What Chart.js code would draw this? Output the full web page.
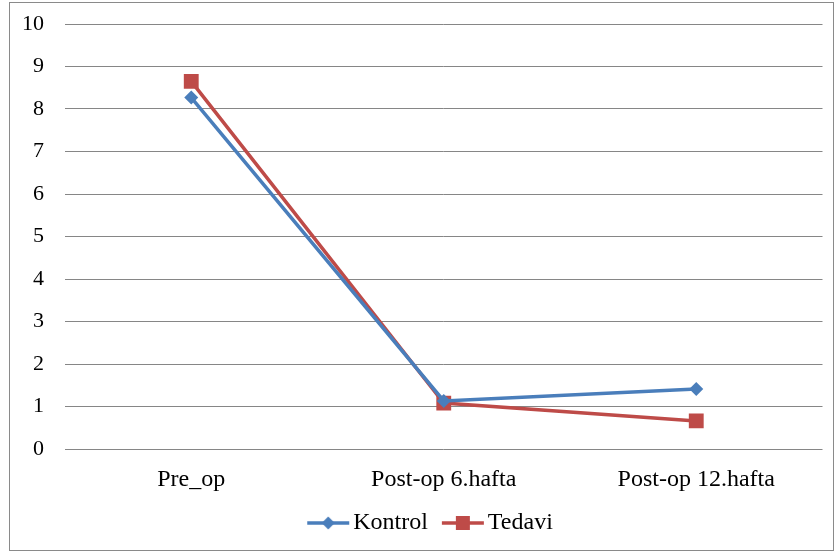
<!DOCTYPE html>
<html>
<head>
<meta charset="utf-8">
<script src="https://cdn.jsdelivr.net/npm/chart.js@4.4.1/dist/chart.umd.min.js"></script>
<style>
  html, body { margin: 0; padding: 0; background: #fff; }
  #frame {
    position: absolute; left: 9px; top: 2px;
    width: 823px; height: 547px;
    border: 1px solid #8a8a8a;
  }
  #chart { display: block; }
</style>
</head>
<body>
<div id="frame"><canvas id="chart" width="823" height="547"></canvas></div>
<script>
const categories = ["Pre_op", "Post-op 6.hafta", "Post-op 12.hafta"];
const kontrol = [8.27, 1.13, 1.41];
const tedavi = [8.65, 1.08, 0.66];

const blue = "#4A7EBB";
const red = "#BE4B48";
const fontFamily = "'Liberation Serif', 'Times New Roman', serif";

// legend swatch: short line with the marker in the middle,
// shifted right so the label sits close to it
function legendSwatch(color, shape) {
  const c = document.createElement("canvas");
  c.width = 56; c.height = 18;
  const g = c.getContext("2d");
  g.strokeStyle = color;
  g.lineWidth = 3.5;
  g.beginPath(); g.moveTo(10, 9); g.lineTo(52, 9); g.stroke();
  g.fillStyle = color;
  if (shape === "diamond") {
    g.beginPath();
    g.moveTo(31, 2.5); g.lineTo(37.5, 9); g.lineTo(31, 15.5); g.lineTo(24.5, 9);
    g.closePath(); g.fill();
  } else {
    g.fillRect(24, 2, 14, 14);
  }
  return c;
}

// nudge the legend a little to the right of the canvas centre
const legendNudge = {
  id: "legendNudge",
  afterLayout(chart) {
    chart.legend.left += 12;
    chart.legend.right += 12;
  }
};

const ctx = document.getElementById("chart").getContext("2d");
new Chart(ctx, {
  type: "line",
  data: {
    labels: categories,
    datasets: [
      {
        label: "Kontrol",
        data: kontrol,
        borderColor: blue,
        backgroundColor: blue,
        borderWidth: 3.5,
        pointStyle: "rectRot",
        pointRadius: 7,
        pointBorderWidth: 0,
        tension: 0
      },
      {
        label: "Tedavi",
        data: tedavi,
        borderColor: red,
        backgroundColor: red,
        borderWidth: 3.5,
        pointStyle: "rect",
        pointRadius: 10.5,
        pointBorderWidth: 0,
        tension: 0
      }
    ]
  },
  plugins: [legendNudge],
  options: {
    responsive: false,
    animation: false,
    layout: { padding: { left: 0, right: 5, top: 21, bottom: 5 } },
    plugins: {
      tooltip: { enabled: false },
      legend: {
        position: "bottom",
        labels: {
          usePointStyle: true,
          pointStyleWidth: 32,
          boxHeight: 18,
          padding: 16,
          color: "#000",
          font: { family: fontFamily, size: 24 },
          generateLabels: (chart) => chart.data.datasets.map((ds, i) => ({
            text: ds.label,
            pointStyle: legendSwatch(ds.borderColor, i === 0 ? "diamond" : "square"),
            fillStyle: ds.borderColor,
            strokeStyle: ds.borderColor,
            lineWidth: 0,
            fontColor: "#000",
            datasetIndex: i
          }))
        }
      }
    },
    scales: {
      x: {
        offset: true,
        grid: { display: false },
        border: { display: false },
        ticks: {
          color: "#000",
          padding: 8,
          maxRotation: 0,
          font: { family: fontFamily, size: 24 }
        },
        afterFit: (axis) => { axis.height = 46; }
      },
      y: {
        min: 0,
        max: 10,
        grid: {
          color: "#868686",
          lineWidth: 1,
          drawTicks: true,
          tickLength: 17,
          tickColor: "rgba(0,0,0,0)"
        },
        border: { display: false },
        ticks: {
          stepSize: 1,
          color: "#000",
          padding: 4,
          font: { family: fontFamily, size: 22 }
        },
        afterFit: (axis) => { axis.width = 55; }
      }
    }
  }
});
</script>
</body>
</html>
